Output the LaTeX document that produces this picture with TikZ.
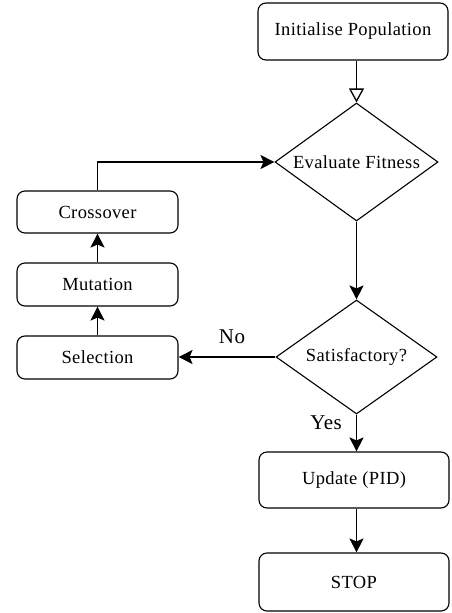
\documentclass[tikz,border=0pt]{standalone}
\usepackage{fontspec}
\setmainfont{Liberation Serif}[LetterSpace=2]
\usetikzlibrary{shapes.geometric,arrows.meta}
\begin{document}
\begin{tikzpicture}[x=1pt,y=-1pt,
  every node/.style={font=\rmfamily\fontsize{18.5}{20}\selectfont},
  rbox/.style={draw, line width=1.1pt, rounded corners=8pt, inner sep=0pt},
  dmd/.style={draw, diamond, line width=1.1pt, inner sep=0pt, shape aspect=1.38},
  conn/.style={line width=1.3pt, -{Stealth[length=14pt,width=14pt,inset=3pt]}},
  lbl/.style={font=\rmfamily\fontsize{21}{23}\selectfont, inner sep=0pt}
]
\useasboundingbox (0,0) rectangle (451,613);
\node[rbox, minimum width=190pt, minimum height=57pt] (init) at (353,31.5) {Initialise Population};
\node[dmd, minimum width=163pt, minimum height=118pt] (eval) at (356.5,162) {Evaluate Fitness};
\node[dmd, minimum width=161pt, minimum height=114pt] (sat) at (356.5,357) {Satisfactory?};
\node[rbox, minimum width=190pt, minimum height=56pt] (upd) at (354,480) {Update (PID)};
\node[rbox, minimum width=190pt, minimum height=58pt] (stop) at (354,582) {STOP};
\node[rbox, minimum width=161pt, minimum height=42pt] (cross) at (97.5,212) {Crossover};
\node[rbox, minimum width=161pt, minimum height=43pt] (mut) at (97.5,284.5) {Mutation};
\node[rbox, minimum width=161pt, minimum height=43pt] (sel) at (97.5,357.5) {Selection};
\node[lbl] (no) at (232,337) {No};
\node[lbl] (yes) at (326,423) {Yes};

\draw[line width=1.3pt, -{Triangle[open,length=14pt,width=15pt]}] (init.south -| eval.north) -- (eval.north);
\draw[conn] (eval.south) -- (sat.north);
\draw[conn] (sat.south) -- (sat.south |- upd.north);
\draw[conn] (upd.south -| sat.south) -- (sat.south |- stop.north);
\draw[conn] (sat.west) -- (sel.east |- sat.west);
\draw[conn] (sel.north) -- (mut.south);
\draw[conn] (mut.north) -- (cross.south);
\draw[conn] (cross.north) |- (eval.west);
\end{tikzpicture}
\end{document}
